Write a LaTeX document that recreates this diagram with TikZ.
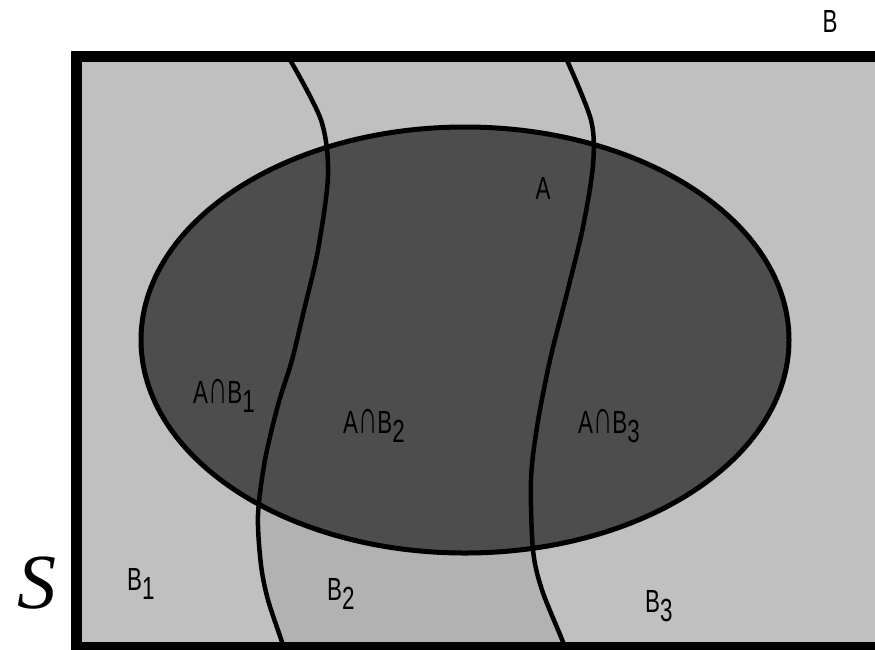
\documentclass[tikz,border=0pt]{standalone}
\usepackage{fontspec}
\newfontfamily\lblfont{Liberation Sans}[FakeStretch=0.7]
\setmainfont{Liberation Serif}
\definecolor{paleGray}{HTML}{C0C0C0}
\definecolor{bandGray}{HTML}{B2B2B2}
\definecolor{setGray}{HTML}{4D4D4D}
\newcommand\lowr[1]{\raisebox{-0.3em}{#1}}
\newcommand\capsym{\scalebox{1.2}[1.5]{∩}}

\begin{document}
\begin{tikzpicture}[x=1pt, y=-1pt,
  lbl/.style={font=\lblfont\fontsize{32}{32}\selectfont, inner sep=0pt, text=black},
  wave/.style={line width=4.5pt}]
  \useasboundingbox (0,0) rectangle (875,649);
  \clip (0,0) rectangle (875,649);
  % sample space
  \fill[paleGray] (76.5,56.5) rectangle (900,647.5);
  % lower part of B2
  \begin{scope}
    \clip (0,400) rectangle (875,649);
    \fill[bandGray] plot[smooth] coordinates {(289,58) (321,120) (328,175) (318,250) (304,310) (292,360) (278,405) (265,460) (258,515) (261,565) (268,600) (282,642) (286,656)}
      -- plot[smooth] coordinates {(567,656) (563,642) (542,590) (533,550) (531,480) (537,427) (550,360) (567,293) (583,227) (593,165) (591,120) (566,58)} -- cycle;
  \end{scope}
  % event A
  \draw[fill=setGray, line width=5pt] (465,340) ellipse [x radius=324, y radius=213];
  % partition B1, B2, B3
  \draw[wave] plot[smooth] coordinates {(289,58) (321,120) (328,175) (318,250) (304,310) (292,360) (278,405) (265,460) (258,515) (261,565) (268,600) (282,642) (286,656)};
  \draw[wave] plot[smooth] coordinates {(566,58) (591,120) (593,165) (583,227) (567,293) (550,360) (537,427) (531,480) (533,550) (542,590) (563,642) (567,656)};
  \draw[line width=11pt] (76.5,56.5) rectangle (900,647.5);
  % labels
  \node[lbl, anchor=base] (lblB) at (830,32) {B};
  \node[lbl, anchor=base] (lblA) at (543,199) {A};
  \node[lbl, anchor=base west] (ab1) at (193,403) {A\capsym B\lowr{1}};
  \node[lbl, anchor=base west] (ab2) at (343,433) {A\capsym B\lowr{2}};
  \node[lbl, anchor=base west] (ab3) at (578,433) {A\capsym B\lowr{3}};
  \node[lbl, anchor=base west] (b1) at (127,590) {B\lowr{1}};
  \node[lbl, anchor=base west] (b2) at (327,600) {B\lowr{2}};
  \node[lbl, anchor=base west] (b3) at (645,612) {B\lowr{3}};
  \node[font=\itshape\fontsize{78}{78}\selectfont, inner sep=0pt] (lblS) at (37,583) {S};
\end{tikzpicture}
\end{document}
